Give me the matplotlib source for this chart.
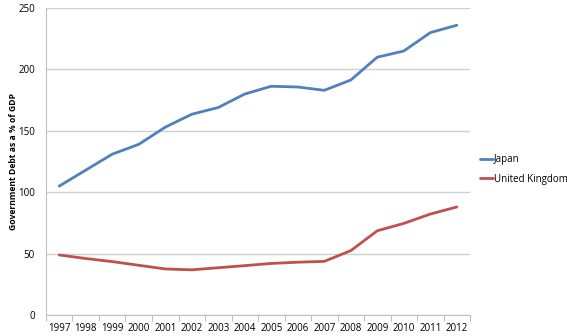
import matplotlib
matplotlib.use("Agg")
import matplotlib.pyplot as plt
import numpy as np

years = ["1997", "1998", "1999", "2000", "2001", "2002", "2003", "2004",
         "2005", "2006", "2007", "2008", "2009", "2010", "2011", "2012"]
japan = [105, 118, 131, 139, 153, 163.5, 169, 180, 186.3, 185.7, 183, 191.4, 210, 215, 230, 236]
uk = [48.9, 46, 43.5, 40.5, 37.5, 36.8, 38.5, 40.2, 42, 43, 43.7, 52.4, 68.6, 74.6, 82.2, 88]
yticks = [0, 50, 100, 150, 200, 250]

plt.rcParams['font.family'] = ['Open Sans', 'DejaVu Sans']

fig = plt.figure(figsize=(5.67, 3.36), dpi=100)
ax = fig.add_axes([0.0811, 0.0625, 0.829 - 0.0811, 0.976 - 0.0625])

x = np.arange(len(years))
ax.plot(x, japan, color="#4F81BD", lw=2.0, label="Japan", solid_capstyle="round")
ax.plot(x, uk, color="#C0504D", lw=2.0, label="United Kingdom", solid_capstyle="round")

ax.set_xlim(-0.5, len(years) - 0.5)
ax.set_ylim(0, 250)
ax.set_yticks(yticks)
ax.set_yticklabels([str(v) for v in yticks], fontsize=7)
ax.set_xticks(np.arange(-0.5, len(years), 1.0))
ax.set_xticklabels([])
ax.set_xticks(x, minor=True)
ax.set_xticklabels(years, minor=True, fontsize=7)
ax.tick_params(axis='x', which='major', length=4, color="#bfbfbf", direction='out')
ax.tick_params(axis='x', which='minor', length=0, pad=6)
ax.tick_params(axis='y', length=0, pad=8)

ax.grid(axis='y', color="#d0d0d0", lw=1.0)
ax.set_axisbelow(True)
for s in ["top", "right"]:
    ax.spines[s].set_visible(False)
ax.spines["left"].set_color("#bfbfbf")
ax.spines["bottom"].set_color("#bfbfbf")

ax.set_ylabel("Government Debt as a % of GDP", fontsize=6.2, fontweight='bold')
ax.yaxis.set_label_coords(-0.065, 0.5)

fig.legend(*ax.get_legend_handles_labels(), loc="upper left",
           bbox_to_anchor=(480 / 567, 1 - 154 / 336), frameon=False, fontsize=7,
           handlelength=1.3, handletextpad=0.15, labelspacing=0.9,
           borderaxespad=0, borderpad=0)

fig.savefig("out.png", dpi=100)
